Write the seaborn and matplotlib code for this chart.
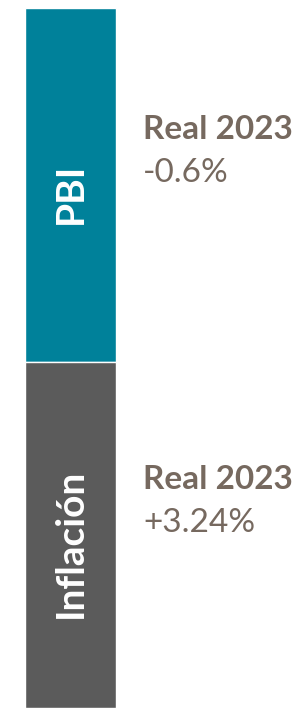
import numpy as np
import pandas as pd
import seaborn as sn
import matplotlib.pyplot as plt

# datos
categorias = ["PBI", "Inflación"]
segmentos = [1.0, 0.98]
etiquetas_titulo = ["Real 2023", "Real 2023"]
etiquetas_valor = ["-0.6%", "+3.24%"]
colores = ["#00819A", "#5B5B5B"]

sn.set_style("white")
plt.rcParams['font.family'] = ['Lato', 'DejaVu Sans']

fig = plt.figure(figsize=(2.98, 7.08), dpi=100)
ax = fig.add_axes([0, 0, 1, 1])

base = 0
for cat, h, col in zip(categorias, segmentos, colores):
    sn.barplot(x=[""], y=[h], bottom=base, color=col, width=1,
               edgecolor="white", linewidth=1, saturation=1, ax=ax)
    ax.text(0, base + h * 0.525, cat, rotation=90, ha="center", va="center",
            color="white", fontsize=28, fontweight="bold")
    base += h

# 91 px por unidad en x, ~353 px por unidad en y
upy = 700 / sum(segmentos)
ax.set_xlim(-0.5 - 25 / 91, -0.5 - 25 / 91 + 298 / 91)
ax.set_ylim(sum(segmentos), -8 / upy)
ax.axis("off")

texto_col = "#76695F"
for i, (t, v) in enumerate(zip(etiquetas_titulo, etiquetas_valor)):
    y0 = [139, 489][i]
    fig.text(143 / 298, 1 - y0 / 708, t, ha="left", va="baseline",
             color=texto_col, fontsize=24, fontweight="bold")
    fig.text(143 / 298, 1 - (y0 + 43) / 708, v, ha="left", va="baseline",
             color=texto_col, fontsize=24)

fig.savefig("out.png", dpi=100)
